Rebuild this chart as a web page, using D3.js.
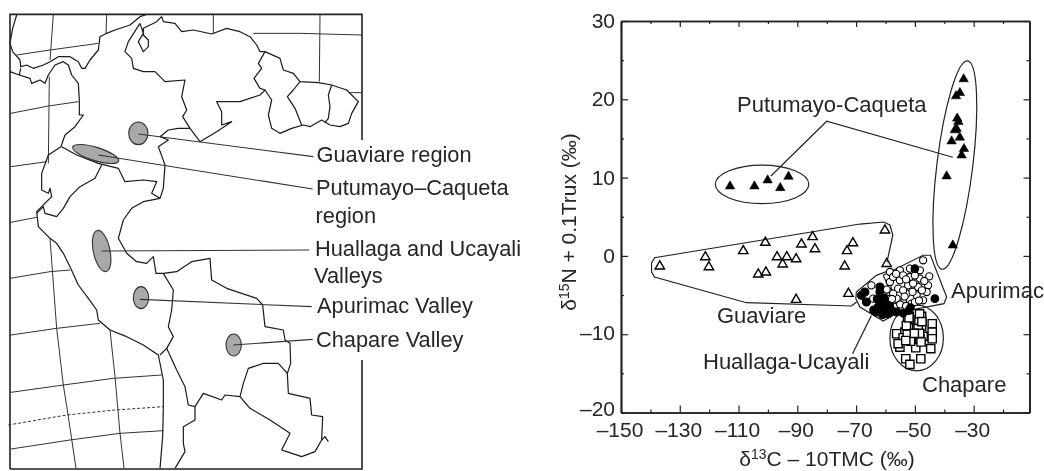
<!DOCTYPE html>
<html><head><meta charset="utf-8">
<style>
html,body{margin:0;padding:0;background:#fff}
svg{display:block}
text{font-family:"Liberation Sans",Arial,sans-serif;fill:#262626}
</style>
<script src="https://cdn.jsdelivr.net/npm/d3@7"></script>
</head><body>
<svg id="c" width="1044" height="471"></svg>
<script>
// ---------- scatter data (delta13C-10TMC, delta15N+0.1Trux) ----------
const guaviare=[[-136.8,-1.33],[-121.3,-0.14],[-120.1,-1.42],[-108.4,0.63],[-100.9,1.7],[-103.3,-2.35],[-100.7,-2.1],[-96.9,-0.14],[-95,-1.07],[-93.6,-0.14],[-90.4,-0.4],[-88.6,1.48],[-84.8,2.42],[-84,0.88],[-73.9,-1.33],[-73.1,0.63],[-71.1,1.65],[-90.4,-5.59],[-72.6,-4.82],[-60.2,3.27],[-59.6,-1.0]];
const putumayoLeft=[[-112.9,8.9],[-104.6,8.9],[-100.1,9.67],[-95.8,8.68],[-93,10.14]];
const putumayoRight=[[-33.4,22.58],[-34.7,20.83],[-36,20.41],[-35.6,17.56],[-35.2,17.12],[-36.4,16.06],[-35.8,16.23],[-34.7,15.13],[-37.5,14.65],[-33.3,13.67],[-34.1,12.86],[-39.2,10.18],[-37.1,1.36]];
const chapare=[[-51.9,-7.72],[-47.7,-7.72],[-51.9,-8.75],[-47.7,-9],[-44.1,-8.66],[-44.1,-9.73],[-56.2,-9.94],[-53.4,-9.73],[-50.8,-10.45],[-47.2,-10.28],[-44.1,-10.58],[-55.1,-11.65],[-49.7,-11.73],[-44.6,-11.85],[-53.1,-13.13],[-48,-13.13],[-51.7,-13.86],[-51.1,-9.3],[-48.9,-9.3],[-54,-10.45],[-48.3,-10.58],[-55.7,-11.2],[-52.5,-8.2],[-52.2,-9.2],[-48.6,-8.2],[-48.4,-9.9],[-52.6,-10],[-51.5,-10.9],[-47.9,-11],[-52.9,-8.9],[-52,-7.9],[-48.4,-7.4],[-53.1,-10.8],[-47.6,-8.4],[-50.2,-9.9]];
const apurimac=[[-47.2,-0.56],[-51.7,-1.62],[-48.3,-1.84],[-45.1,-2.61],[-55.1,-1.84],[-58.5,-2.05],[-51.7,-2.69],[-48.3,-2.9],[-45.5,-3.76],[-55.1,-3.12],[-58.5,-3.33],[-52.3,-3.76],[-48.9,-3.97],[-46,-4.61],[-55.7,-4.18],[-58.7,-4.61],[-52.8,-4.82],[-49.4,-5.03],[-47.2,-5.67],[-56.2,-5.46],[-54,-5.89],[-51.1,-6.1],[-59.1,-5.89],[-56.8,-6.53],[-57.4,-2.69],[-54,-2.48],[-50.6,-3.54],[-54,-4.4],[-57.4,-4.82],[-50.8,-4.6],[-53.5,-5.2],[-56.4,-2.3],[-53,-3],[-50,-2.5],[-46.8,-3.2],[-47.6,-4.4],[-50,-5.9],[-55,-6.2],[-57.8,-5.5],[-59.6,-4.3],[-53,-6.4],[-48.6,-5.7]];
const apurimacFilled=[[-50,-1.62],[-43.2,-5.46],[-54,-7.3],[-52.2,-7],[-51.5,-6.6]];
const huallagaFilled=[[-67,-4.61],[-68.2,-5.04],[-66.5,-5.89],[-61.9,-3.97],[-61.9,-4.61],[-61.9,-5.25],[-61.4,-5.89],[-62.5,-6.53],[-63.1,-7.17],[-60.8,-6.74],[-59.1,-7.38],[-58,-6.95],[-56.2,-7.17],[-60.2,-6.1],[-62.8,-5.5],[-60.6,-5.4],[-64,-6.9],[-61,-7.5],[-58.6,-6.4]];
const huallagaOpen=[[-64.8,-3.76],[-64.2,-5.46]];
// enclosures
const guaviareHull=[[-59.5,-0.78],[-57.5,2.67],[-58.5,3.95],[-60.6,4.33],[-68.7,4.07],[-138.6,-0.23],[-139.6,-0.91],[-139.6,-2.06],[-138.6,-2.7],[-107.3,-5.98],[-71.6,-6.4],[-69.8,-5.89]];
const huallagaHull=[[-69.9,-4.61],[-63.1,-2.48],[-58.5,-1.84],[-57.4,-7.59],[-60.8,-8.32],[-68.7,-6.53],[-70.1,-5.46],[-69.9,-4.61]];
const apurimacHull=[[-60.8,-2.48],[-47.2,0.08],[-44.7,0.08],[-39.2,-5.25],[-40.1,-6.1],[-55.1,-7.17],[-60.8,-2.48]];
const ellipses=[{c:[-49.4,-10.48],r:[9.1,4.2],a:0},{c:[-102,9.14],r:[15.9,2.46],a:0},{c:[-36.4,11.6],r:[6.1,13.4],a:7}];
const leaderPutumayo=[[-99,10.2],[-80,17.2],[-37.1,12.6]];
const leaderHuallaga=[[-64.8,-7.6],[-71.2,-12.5]];
const xMajor=[-150,-130,-110,-90,-70,-50,-30];
const xMinor=[-140,-120,-100,-80,-60,-40,-20];
const yMajor=[30,20,10,0,-10,-20];
const yMinor=[25,15,5,-5,-15];
const plotLabels=[["Putumayo-Caqueta",737,112],["Guaviare",717,323],["Huallaga-Ucayali",703,369],["Apurimac",951,298],["Chapare",922,392]];

// ---------- map data, in map units ----------
const frameTop=[[30,1407],[30,43],[1086,43],[1086,420]];
const frameBottom=[[1086,1080],[1086,1407],[30,1407]];
const graticule=[
[[160,45],[150,180]],[[148,230],[145,490]],[[320,45],[318,100]],[[640,45],[640,100]],[[760,100],[900,100],[1085,105]],[[960,45],[958,245]],[[1050,278],[1085,278]],
[[50,165],[150,150],[295,130]],[[32,340],[145,318],[235,305]],[[33,500],[140,485]],[[32,667],[110,652]],[[30,835],[150,815],[210,810]],[[33,1005],[170,985],[300,970]],[[33,1177],[190,1155],[340,1135],[485,1125]],[[33,1347],[210,1320],[360,1300],[490,1292]],
[[150,715],[170,985],[190,1155],[205,1250],[228,1405]],[[330,990],[345,1130],[360,1300],[372,1405]]];
const dashed=[[25,1275],[200,1245],[345,1230],[490,1220]];
const borders=[
[[50,45],[38,85],[30,130],[38,155],[60,180],[62,200],[80,195],[100,205],[130,195],[150,185],[175,170],[210,170],[235,185],[245,205],[255,205],[270,180],[295,150],[300,110],[320,100],[345,90],[390,75],[420,50],[440,43]],
[[30,215],[58,225],[62,205]],
[[58,225],[90,235],[95,250],[120,240],[135,250],[145,225],[165,195],[190,185],[205,195],[215,225],[235,250],[238,300],[238,345],[250,345],[225,380],[195,405],[183,440],[145,465],[125,520],[125,570],[145,580],[150,565],[155,590],[110,635],[115,680],[150,715],[170,730],[190,760],[210,800],[235,855],[265,895],[290,930],[295,960],[330,990],[380,1010],[430,1035],[475,1065],[490,1140],[490,1220],[488,1310],[480,1405]],
[[420,70],[430,100],[415,125],[430,155],[445,140],[445,120],[430,105],[430,85],[470,65],[485,50],[490,65],[525,70],[545,95],[580,90],[635,102],[680,85],[720,95],[750,110],[770,135],[780,155],[795,155],[840,175],[850,210],[880,220],[900,245],[955,248],[995,255],[1040,270],[1075,305],[1055,340],[1045,370],[1020,380],[990,375],[965,360],[930,380],[910,375],[875,385],[840,400],[815,385],[805,345],[815,300],[795,270],[780,285],[720,305],[650,305],[665,335],[665,375],[695,365],[650,395],[600,425],[570,385],[548,350],[560,330],[545,290],[555,240],[495,245],[465,215],[430,215],[400,205],[395,175],[375,155],[385,125],[420,70]],
[[795,155],[775,190],[785,205],[762,235],[780,265],[795,270]],
[[900,245],[880,270],[862,290],[885,325],[905,375]],
[[995,255],[985,285],[990,320],[985,355],[975,368]],
[[570,385],[535,385],[505,390],[480,410],[505,420],[475,440],[495,495],[490,565],[480,595],[455,580],[470,545],[430,540],[375,545],[355,505],[295,490],[230,465],[185,440]],
[[305,495],[285,535],[240,560],[210,590],[190,625],[170,650],[135,640],[130,620],[110,640]],
[[480,595],[430,605],[395,625],[370,660],[355,715],[380,760],[410,785],[440,790],[460,770],[468,820],[490,820],[530,815],[575,785],[630,775],[635,840],[680,865],[770,895],[788,915],[795,980],[850,990],[855,1020],[870,1030],[872,1090],[862,1120],[865,1180],[930,1195],[935,1245],[968,1250],[965,1320],[945,1355],[905,1370],[860,1355],[845,1350],[870,1300],[810,1260],[750,1225],[720,1190],[675,1185],[665,1200],[610,1180],[585,1220],[565,1215],[555,1160],[530,1110],[500,1045]],
[[490,820],[520,870],[515,930],[505,980],[520,1010],[500,1045],[480,1065]],
[[720,1190],[730,1150],[745,1105],[790,1090],[835,1090],[862,1120]],
[[585,1220],[585,1260],[550,1280],[550,1330],[555,1355],[525,1405]],
[[965,1320],[975,1310],[985,1325]]];
const leaderLines=[[[415,402],[940,470]],[[295,465],[938,567]],[[305,753],[928,750]],[[420,898],[935,920]],[[700,1035],[938,1018]]];
const regions=[{c:[415,400],r:[29,34],a:0},{c:[287,462],r:[72,20],a:17},{c:[305,753],r:[25,63],a:-12},{c:[423,893],r:[23,33],a:0},{c:[701,1035],r:[23,33],a:0}];
const mapLabels=[["Guaviare region",316.5,162],["Putumayo\u2013Caqueta",316,195],["region",315.5,222.5],["Huallaga and Ucayali",315,256],["Valleys",314,282.5],["Apurimac Valley",317,313],["Chapare Valley",316,346.5]];

// ---------- drawing ----------
const svg=d3.select("#c");
const defs=svg.append("defs");
defs.append("filter").attr("id","soft").attr("x","-2%").attr("y","-2%").attr("width","104%").attr("height","104%")
  .append("feGaussianBlur").attr("stdDeviation",0.5);
const root=svg.append("g").attr("filter","url(#soft)");

// map
const mx=d3.scaleLinear().domain([0,3132]).range([0,1044]);
const my=d3.scaleLinear().domain([0,1413]).range([0,471]);
const ml=d3.line().x(d=>mx(d[0])).y(d=>my(d[1]));
const map=root.append("g").attr("fill","none");
map.selectAll(".g").data(graticule).join("path").attr("d",ml).attr("stroke","#333").attr("stroke-width",1);
map.append("path").datum(dashed).attr("d",ml).attr("stroke","#333").attr("stroke-width",1).attr("stroke-dasharray","3 2");
map.selectAll(".b").data(borders).join("path").attr("d",ml).attr("stroke","#1a1a1a").attr("stroke-width",1.2).attr("stroke-linejoin","round");
map.append("path").datum(frameTop).attr("d",ml).attr("stroke","#222").attr("stroke-width",1.6);
map.append("path").datum(frameBottom).attr("d",ml).attr("stroke","#222").attr("stroke-width",1.6);
map.selectAll(".r").data(regions).join("ellipse")
  .attr("rx",d=>mx(d.r[0])).attr("ry",d=>my(d.r[1]))
  .attr("transform",d=>`translate(${mx(d.c[0])},${my(d.c[1])}) rotate(${d.a})`)
  .attr("fill","#a9a9a9").attr("stroke","#333").attr("stroke-width",1.1);
map.selectAll(".l").data(leaderLines).join("path").attr("d",ml).attr("stroke","#333").attr("stroke-width",1.1);
root.append("g").selectAll("text").data(mapLabels).join("text")
  .attr("x",d=>d[1]).attr("y",d=>d[2]).attr("font-size",21.8).text(d=>d[0]);

// plot
const x=d3.scaleLinear().domain([-150,-11]).range([621,1029.5]);
const y=d3.scaleLinear().domain([-20,30]).range([412.5,21]);
const pl=d3.line().x(d=>x(d[0])).y(d=>y(d[1]));
const plot=root.append("g");
const axisG=plot.append("g").attr("fill","none");
function place(g,gen,t){const n=g.append("g").attr("transform",t).call(gen);n.select(".domain").attr("stroke","#222").attr("stroke-width",1.7);n.selectAll(".tick line").attr("stroke","#222").attr("stroke-width",1.2);n.selectAll("text").remove();return n;}
const fmt=v=>(v<0?"\u2013"+Math.abs(v):""+v);
place(axisG,d3.axisBottom(x).tickValues(xMajor).tickSize(-7).tickSizeOuter(0),`translate(0,${y(-20)})`);
place(axisG,d3.axisBottom(x).tickValues(xMinor).tickSize(-3).tickSizeOuter(0),`translate(0,${y(-20)})`);
place(axisG,d3.axisTop(x).tickValues(xMajor).tickSize(-6).tickSizeOuter(0),`translate(0,${y(30)})`);
place(axisG,d3.axisTop(x).tickValues(xMinor).tickSize(-3).tickSizeOuter(0),`translate(0,${y(30)})`);
place(axisG,d3.axisLeft(y).tickValues(yMajor).tickSize(-7).tickSizeOuter(0),`translate(${x(-150)},0)`);
place(axisG,d3.axisLeft(y).tickValues(yMinor).tickSize(-3).tickSizeOuter(0),`translate(${x(-150)},0)`);
place(axisG,d3.axisRight(y).tickValues(yMajor).tickSize(-6).tickSizeOuter(0),`translate(${x(-11)},0)`);
place(axisG,d3.axisRight(y).tickValues(yMinor).tickSize(-3).tickSizeOuter(0),`translate(${x(-11)},0)`);
plot.append("g").selectAll("text").data(xMajor).join("text").attr("x",d=>x(d)-1).attr("y",437).attr("text-anchor","middle").attr("font-size",21).text(fmt);
plot.append("g").selectAll("text").data(yMajor).join("text").attr("x",615).attr("y",d=>y(d)+(d===-20?3:d===-10?6:7)).attr("text-anchor","end").attr("font-size",21).text(fmt);
const xt=plot.append("text").attr("x",827).attr("y",465.5).attr("text-anchor","middle").attr("font-size",21);
xt.append("tspan").text("\u03B4");xt.append("tspan").attr("font-size",14).attr("dy",-7).text("13");xt.append("tspan").attr("dy",7).text("C \u2013 10TMC (\u2030)");
const yt=plot.append("text").attr("transform","translate(575.5,222) rotate(-90)").attr("text-anchor","middle").attr("font-size",21);
yt.append("tspan").text("\u03B4");yt.append("tspan").attr("font-size",14).attr("dy",-7).text("15");yt.append("tspan").attr("dy",7).text("N + 0.1Trux (\u2030)");

const shapes=plot.append("g").attr("fill","none").attr("stroke","#222").attr("stroke-width",1.2);
shapes.append("path").datum(guaviareHull).attr("d",pl);
shapes.append("path").datum(huallagaHull).attr("d",pl);
shapes.append("path").datum(apurimacHull).attr("d",pl);
shapes.selectAll("ellipse").data(ellipses).join("ellipse")
  .attr("rx",d=>x(d.c[0]+d.r[0])-x(d.c[0])).attr("ry",d=>y(d.c[1]-d.r[1])-y(d.c[1]))
  .attr("transform",d=>`translate(${x(d.c[0])},${y(d.c[1])}) rotate(${d.a})`);
shapes.append("path").datum(leaderPutumayo).attr("d",pl);
shapes.append("path").datum(leaderHuallaga).attr("d",pl);

const tri=d3.symbol(d3.symbolTriangle,38)();
const sq=d3.symbol(d3.symbolSquare,68)();
function pts(data,path,fill,sw){plot.append("g").selectAll("path").data(data).join("path").attr("d",path)
  .attr("transform",d=>`translate(${x(d[0])},${y(d[1])})`).attr("fill",fill).attr("stroke","#000").attr("stroke-width",sw);}
function dots(data,r,fill){plot.append("g").selectAll("circle").data(data).join("circle").attr("cx",d=>x(d[0])).attr("cy",d=>y(d[1])).attr("r",r).attr("fill",fill).attr("stroke","#000").attr("stroke-width",1.1);}
pts(guaviare,tri,"none",1.4);
pts(putumayoLeft,tri,"#000",0.6);
pts(putumayoRight,tri,"#000",0.6);
dots(apurimac,3.6,"#fff");
dots(huallagaOpen,3.6,"#fff");
pts(chapare,sq,"#fff",1.4);
dots(apurimacFilled,3.8,"#000");
dots(huallagaFilled,4,"#000");
plot.append("g").selectAll("text").data(plotLabels).join("text").attr("x",d=>d[1]).attr("y",d=>d[2]).attr("font-size",22).text(d=>d[0]);
</script>
</body></html>
